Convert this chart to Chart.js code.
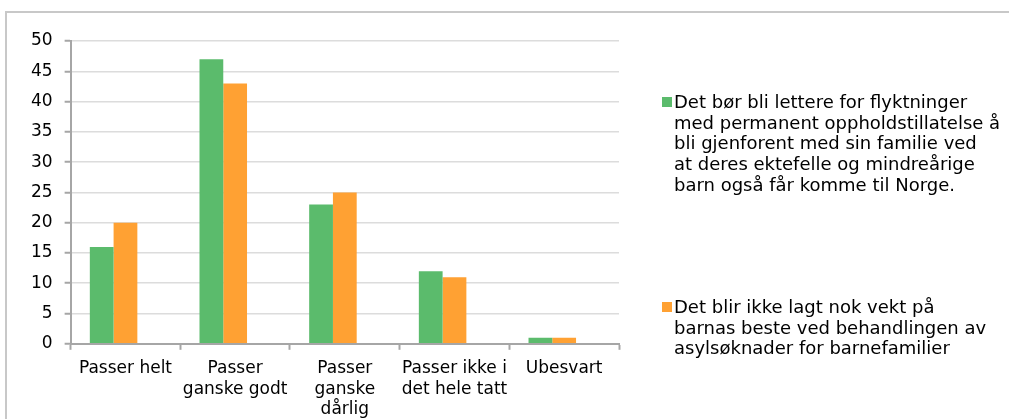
<!DOCTYPE html>
<html>
<head>
<meta charset="utf-8">
<script src="https://cdn.jsdelivr.net/npm/chart.js@4.4.1/dist/chart.umd.min.js"></script>
<style>
  html, body { margin: 0; padding: 0; background: #fff; overflow: hidden; width: 1011px; height: 419px; }
  #ftop { position: absolute; left: 5px; top: 11px; width: 1004px; height: 2px; background: #c8c8c8; }
  #fleft { position: absolute; left: 5px; top: 11px; width: 2px; height: 408px; background: #c8c8c8; }
  #mask { position: absolute; left: 1002px; top: 14px; width: 9px; height: 405px; background: #fff; z-index: 10; }
  #wrap { position: absolute; left: 0; top: 0; width: 1011px; height: 431px; }
</style>
</head>
<body>
<div id="wrap"><canvas id="c"></canvas></div>
<div id="ftop"></div>
<div id="fleft"></div>
<div id="mask"></div>
<script>
const categories = [
  ['Passer helt'],
  ['Passer', 'ganske godt'],
  ['Passer', 'ganske', 'dårlig'],
  ['Passer ikke i', 'det hele tatt'],
  ['Ubesvart']
];
const seriesLettere = [16, 47, 23, 12, 1];
const seriesVekt = [20, 43, 25, 11, 1];
const seriesEmpty = [null, null, null, null, null];
const labelLettere = [
  'Det bør bli lettere for flyktninger',
  'med permanent oppholdstillatelse å',
  'bli gjenforent med sin familie ved',
  'at deres ektefelle og mindreårige',
  'barn også får komme til Norge.'
];
const labelVekt = [
  'Det blir ikke lagt nok vekt på',
  'barnas beste ved behandlingen av',
  'asylsøknader for barnefamilier'
];
const yTicks = { min: 0, max: 50, step: 5 };

const GREEN = '#5BBB6C';
const ORANGE = '#FFA133';
const FONT = 'DejaVu Sans, Verdana, sans-serif';

const sideLegend = {
  id: 'sideLegend',
  afterDraw(chart) {
    const ctx = chart.ctx;
    const ca = chart.chartArea;
    const x0 = ca.right + 43;
    const items = [
      { lines: chart.data.datasets[0].legendLines, color: chart.data.datasets[0].backgroundColor, base: 108 },
      { lines: chart.data.datasets[1].legendLines, color: chart.data.datasets[1].backgroundColor, base: 313 }
    ];
    ctx.save();
    ctx.font = '18px ' + FONT;
    ctx.textBaseline = 'alphabetic';
    ctx.textAlign = 'left';
    items.forEach(it => {
      ctx.fillStyle = it.color;
      ctx.fillRect(x0, it.base - 11, 10, 10);
      ctx.fillStyle = '#000';
      it.lines.forEach((ln, i) => {
        ctx.fillText(ln, x0 + 12, it.base + i * 20.7);
      });
    });
    ctx.restore();
  }
};

new Chart(document.getElementById('c'), {
  type: 'bar',
  data: {
    labels: categories,
    datasets: [
      { label: labelLettere.join(' '), legendLines: labelLettere, data: seriesLettere, backgroundColor: GREEN },
      { label: labelVekt.join(' '), legendLines: labelVekt, data: seriesVekt, backgroundColor: ORANGE },
      { label: '', data: seriesEmpty, backgroundColor: 'rgba(0,0,0,0)' }
    ]
  },
  options: {
    responsive: true,
    maintainAspectRatio: false,
    animation: false,
    datasets: { bar: { categoryPercentage: 0.65, barPercentage: 1.0 } },
    layout: { padding: { left: 19, right: 392, top: 41, bottom: 2 } },
    plugins: { legend: { display: false }, tooltip: { enabled: false } },
    scales: {
      x: {
        grid: { offset: true, drawOnChartArea: false, tickLength: 6, tickColor: '#a6a6a6', tickWidth: 2 },
        border: { color: '#a6a6a6', width: 2 },
        ticks: { color: '#000', font: { family: FONT, size: 17, lineHeight: 1.2 }, maxRotation: 0, minRotation: 0, autoSkip: false, padding: 9 }
      },
      y: {
        min: yTicks.min, max: yTicks.max,
        grid: { color: '#dcdcdc', lineWidth: 1.5, tickLength: 6, tickColor: '#a6a6a6', tickWidth: 2 },
        border: { color: '#a6a6a6', width: 2 },
        ticks: { stepSize: yTicks.step, color: '#000', font: { family: FONT, size: 17 }, padding: 12 }
      }
    }
  },
  plugins: [sideLegend]
});
</script>
</body>
</html>
